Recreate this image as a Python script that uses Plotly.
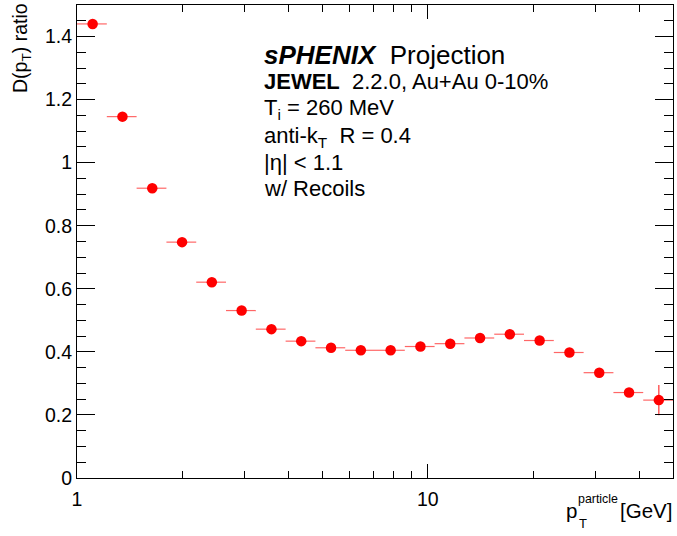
import plotly.graph_objects as go

# Log-uniform pT binning (20 bins from 1 to 50 GeV)
bin_edges = [1.0, 1.2161, 1.4789, 1.7985, 2.1872, 2.6591, 3.2336, 3.9324,
             4.7820, 5.8155, 7.0711, 8.5993, 10.457, 12.717, 15.465, 18.803,
             22.866, 27.807, 33.816, 41.123, 50.0]

# D(pT) ratio per bin and its statistical uncertainty
ratio = [1.440, 1.146, 0.919, 0.748, 0.621, 0.531, 0.472, 0.434, 0.413, 0.405,
         0.405, 0.417, 0.426, 0.444, 0.456, 0.436, 0.398, 0.334, 0.271, 0.247]
ratio_err = [0.003, 0.003, 0.003, 0.003, 0.003, 0.003, 0.003, 0.003, 0.003, 0.003,
             0.004, 0.004, 0.004, 0.005, 0.005, 0.006, 0.007, 0.009, 0.013, 0.048]

x_ticks = [1, 10]
x_minor = [2, 3, 4, 5, 6, 7, 8, 9, 20, 30, 40]

centers = [(lo + hi) / 2 for lo, hi in zip(bin_edges[:-1], bin_edges[1:])]
err_hi = [hi - c for c, hi in zip(centers, bin_edges[1:])]
err_lo = [c - lo for c, lo in zip(centers, bin_edges[:-1])]

W, H = 677, 536
L, R, T, B = 77, 673, 5, 478  # plot frame in pixels
FONT = "Liberation Sans, Arial, sans-serif"


def px(x):
    return (x - L) / (R - L)


def py(y):
    return (B - y) / (B - T)


fig = go.Figure()
fig.add_trace(go.Scatter(
    x=centers, y=ratio, mode="markers",
    marker=dict(color="#ff0000", size=10.5, line=dict(width=0)),
    error_x=dict(type="data", symmetric=False, array=err_hi, arrayminus=err_lo,
                 color="rgba(255,0,0,0.6)", thickness=1.2, width=0),
    error_y=dict(type="data", array=ratio_err, color="rgba(255,0,0,0.8)",
                 thickness=1.2, width=0),
    showlegend=False,
))

axis_common = dict(
    showline=True, linecolor="black", linewidth=1, mirror="allticks",
    ticks="inside", tickcolor="black", tickwidth=1, showgrid=False, zeroline=False,
    tickfont=dict(family=FONT, size=19.5, color="black"),
)

fig.update_xaxes(
    type="log", range=[0, 1.69897], tickvals=x_ticks, ticktext=[str(v) for v in x_ticks],
    ticklen=14, ticklabelstandoff=4,
    minor=dict(tickvals=x_minor, ticklen=7, tickcolor="black", tickwidth=1, ticks="inside"),
    **axis_common,
)
fig.update_yaxes(
    range=[0, 1.5], dtick=0.2, tick0=0, ticklen=18, ticklabelstandoff=0,
    minor=dict(dtick=0.05, ticklen=9, tickcolor="black", tickwidth=1, ticks="inside"),
    **axis_common,
)

annotations = []


def note(text, x, y, size, xanchor="left", yanchor="middle", angle=0):
    annotations.append(dict(
        text=text, x=px(x), y=py(y), xref="paper", yref="paper",
        xanchor=xanchor, yanchor=yanchor, showarrow=False, textangle=angle,
        font=dict(family=FONT, size=size, color="black"),
    ))


# Text block describing the simulation
note("<b><i>sPHENIX</i></b>  Projection", 262, 55, 26)
note("<b>JEWEL</b>  2.2.0, Au+Au 0-10%", 262, 82, 22)
note("T<sub>i</sub> = 260 MeV", 262, 109.5, 22)
note("anti-k<sub>T</sub>  R = 0.4", 262, 137, 22)
note("|η| < 1.1", 262, 162.5, 22)
note("w/ Recoils", 262, 188, 22)

# Axis titles
note("D(p<sub>T</sub>) ratio", 22, 1, 19.5, xanchor="center", yanchor="top", angle=-90)
note("[GeV]", 674, 510.8, 20.5, xanchor="right")
note("p", 564, 510.8, 20.5)
note("particle", 576, 498.7, 12.4)
note("T", 576.5, 523.4, 13)

fig.update_layout(
    width=W, height=H,
    margin=dict(l=L, r=W - R, t=T, b=H - B, pad=0),
    paper_bgcolor="white", plot_bgcolor="white",
    annotations=annotations,
    font=dict(family=FONT, color="black"),
)

fig.write_html("out.html")
